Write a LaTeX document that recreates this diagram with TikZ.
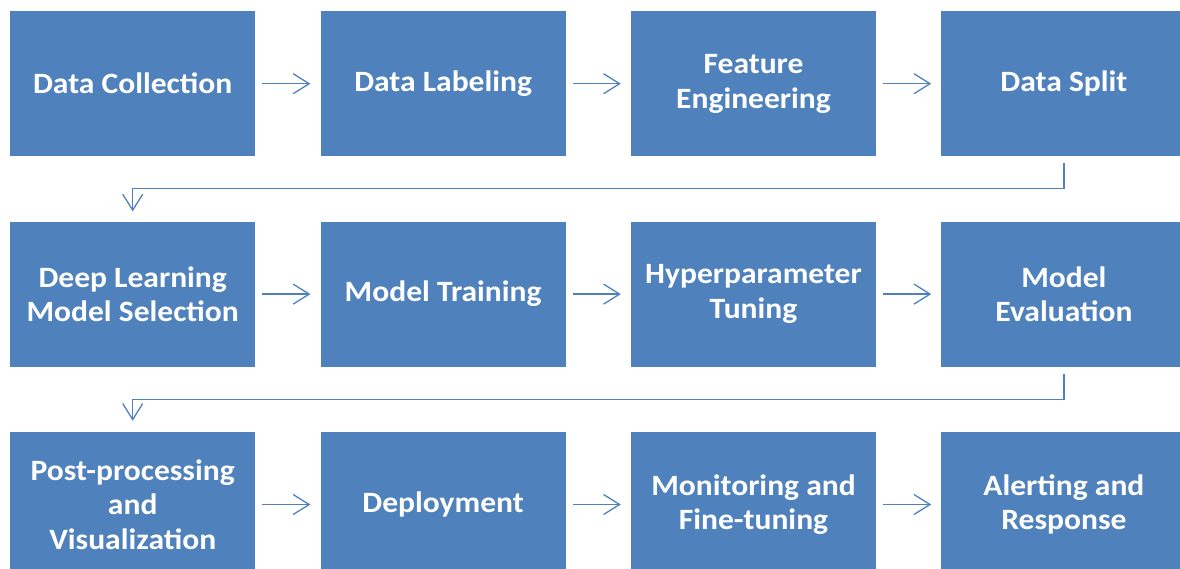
\documentclass[tikz,border=0pt]{standalone}
\usepackage{fontspec}
\setmainfont{Carlito}[FakeStretch=1.07]
\usepackage{tikz}
\usetikzlibrary{arrows.meta, positioning}
\definecolor{stepBlue}{RGB}{79,129,189}
\tikzset{
  block/.style={fill=stepBlue, text=white, align=center,
                minimum width=245pt, minimum height=145pt, inner sep=0pt,
                font=\bfseries\fontsize{29.5}{34.5}\selectfont},
  flow/.style={draw=stepBlue, line width=1.3pt,
               -{Straight Barb[length=16pt, width=20pt, line width=1.3pt]}},
  next/.style={flow, shorten <=7pt, shorten >=10pt},
}

\begin{document}
\begin{tikzpicture}[x=1pt, y=1pt, node distance=65pt and 65pt]
  \useasboundingbox (0,0) rectangle (1180,-569);
  \clip (0,0) rectangle (1180,-569);

  % ----- row 1: data -----
  \node[block, anchor=north west] (collect) at (10,-11) {Data Collection};
  \node[block, right=of collect] (label)   {Data Labeling};
  \node[block, right=of label]   (feature) {Feature\\Engineering};
  \node[block, right=of feature] (split)   {Data Split};

  % ----- row 2: model -----
  \node[block, below=of collect] (select)   {Deep Learning\\Model Selection};
  \node[block, right=of select]  (train)    {Model Training};
  \node[block, right=of train]   (tune)     {Hyperparameter\\Tuning};
  \node[block, right=of tune]    (evaluate) {Model\\Evaluation};

  % ----- row 3: operation -----
  \node[block, below=of select] (post)    {Post-processing\\and\\Visualization};
  \node[block, right=of post]   (deploy)  {Deployment};
  \node[block, right=of deploy] (monitor) {Monitoring and\\Fine-tuning};
  \node[block, right=of monitor] (alert)  {Alerting and\\Response};

  % ----- arrows along each row -----
  \draw[next] (collect) -- (label);
  \draw[next] (label)   -- (feature);
  \draw[next] (feature) -- (split);
  \draw[next] (select)  -- (train);
  \draw[next] (train)   -- (tune);
  \draw[next] (tune)    -- (evaluate);
  \draw[next] (post)    -- (deploy);
  \draw[next] (deploy)  -- (monitor);
  \draw[next] (monitor) -- (alert);

  % ----- wrap to the next row -----
  \draw[flow] ([yshift=-7pt]split.south) -- ++(0,-25pt)
              -| ([yshift=10pt]select.north);
  \draw[flow] ([yshift=-7pt]evaluate.south) -- ++(0,-26pt)
              -| ([yshift=11pt]post.north);
\end{tikzpicture}
\end{document}
